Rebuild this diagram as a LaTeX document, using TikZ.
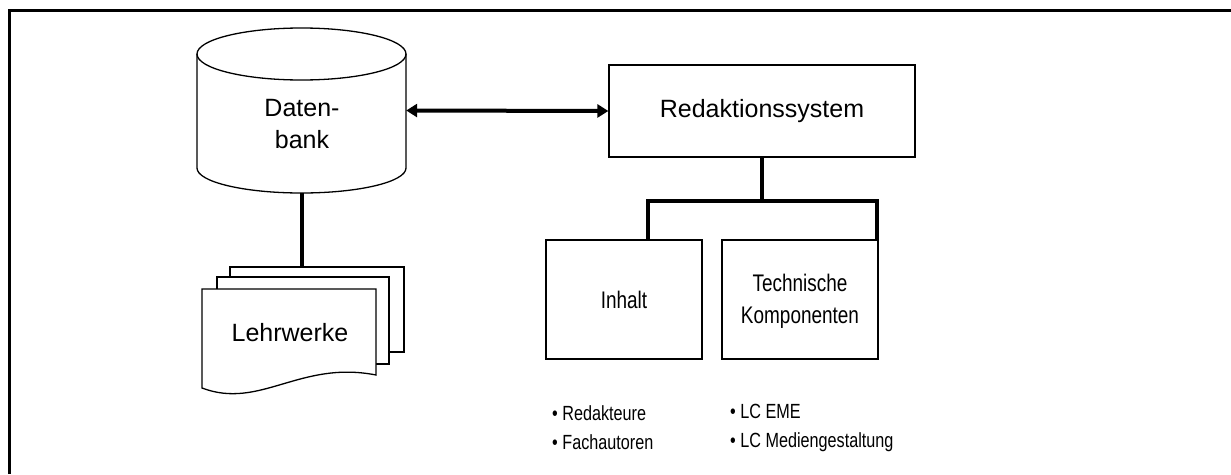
\documentclass[tikz,border=0pt]{standalone}
\usepackage{fontspec}
\setmainfont{Liberation Sans}
\newfontfamily\condfont[FakeStretch=0.79]{Liberation Sans}
\usetikzlibrary{arrows.meta,calc}
\tikzset{
  thinline/.style={line width=1.3pt, draw=black},
  boxnode/.style={thinline, rectangle, inner sep=0pt, align=center},
  conn/.style={line width=4pt, draw=black},
  bigtext/.style={font=\fontsize{25}{32}\selectfont, align=center, inner sep=0pt},
  condtext/.style={font=\condfont\fontsize{24}{32}\selectfont, align=center, inner sep=0pt},
  bullettext/.style={font=\condfont\fontsize{20.5}{29}\selectfont, align=left, inner sep=0pt, anchor=west},
  ghost/.style={rectangle, inner sep=0pt, draw=none},
}
\begin{document}
\begin{tikzpicture}[x=1pt,y=-1pt]
\useasboundingbox (0,0) rectangle (1231,474);
\fill[white] (0,0) rectangle (1231,474);
% frame (top and left edges)
\draw[line width=3pt] (9.5,474) -- (9.5,10.5) -- (1231,10.5);

% database cylinder
\draw[thinline, fill=white] (197,54) -- (197,168) arc[start angle=180, end angle=0, x radius=104.5, y radius=25]
  -- (406,54) arc[start angle=0, end angle=-180, x radius=104.5, y radius=26] -- cycle;
\draw[thinline] (197,54) arc[start angle=180, end angle=0, x radius=104.5, y radius=26];
\node[ghost, minimum width=209pt, minimum height=165pt] (db) at (301.5,110.5) {};
\node[bigtext] (dbtext) at (302,124) {Daten-\\bank};

% document stack
\draw[thinline, fill=white] (230,267) rectangle (404,352);
\node[ghost, minimum width=174pt, minimum height=85pt] (docback) at (317,309.5) {};
\draw[thinline, fill=white] (217,277) rectangle (389,364);
\draw[thinline, fill=white] (202,289) -- (376,289) -- (376,375)
  .. controls (300,360) and (260,410) .. (202,388) -- cycle;
\node[bigtext] (lehr) at (290,333) {Lehrwerke};

% Redaktionssystem
\node[boxnode, minimum width=306pt, minimum height=92pt, font=\fontsize{25}{30}\selectfont] (rs) at (762,111) {Redaktionssystem};

% lower boxes
\node[boxnode, minimum width=156pt, minimum height=119pt] (inh) at (624,299.5) {};
\node[condtext] at (inh.center) {Inhalt};
\node[boxnode, minimum width=156pt, minimum height=119pt] (tech) at (800,299.5) {};
\node[condtext] at ($(tech.center)+(0,1.5)$) {Technische\\Komponenten};

% bullet lists
\node[bullettext] (bl1) at (552,427.5) {• Redakteure\\• Fachautoren};
\node[bullettext] (bl2) at (730,427.5) {• LC EME\\• LC Mediengestaltung};

% connectors
\draw[conn] (db.south) -- (db.south |- docback.north);
\draw[conn, {Triangle[length=11pt,width=13pt]}-{Triangle[length=11pt,width=13pt]}] (db.east) -- (rs.west);
\coordinate (j) at ($(rs.south)+(0,43)$);
\draw[conn] (rs.south) -- (j);
\draw[conn, line join=miter] ([xshift=24pt]inh.north) |- (j) -| ([xshift=-2pt]tech.north east);
\end{tikzpicture}
\end{document}
